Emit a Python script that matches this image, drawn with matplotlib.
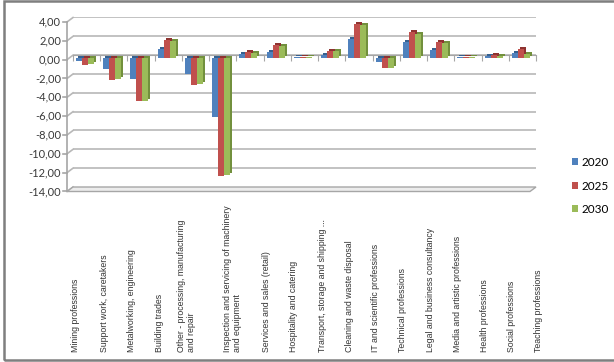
import numpy as np
import matplotlib
matplotlib.use("Agg")
import matplotlib.pyplot as plt
import matplotlib.transforms as mtransforms
from matplotlib.patches import Rectangle, Polygon

# data
categories = [
    "Mining professions",
    "Support work, caretakers",
    "Metalworking, engineering",
    "Building trades",
    "Other - processing, manufacturing\nand repair",
    "Inspection and servicing of machinery\nand equipment",
    "Services and sales (retail)",
    "Hospitality and catering",
    "Transport, storage and shipping ...",
    "Cleaning and waste disposal",
    "IT and scientific professions",
    "Technical professions",
    "Legal and business consultancy",
    "Media and artistic professions",
    "Health professions",
    "Social professions",
    "Teaching professions",
]
series_names = ["2020", "2025", "2030"]
v2020 = [-0.25, -1.1, -2.2, 0.95, -1.65, -6.3, 0.4, 0.65, 0.1, 0.35, 2.0, -0.45, 1.7, 0.9, 0.1, 0.25, 0.6]
v2025 = [-0.75, -2.35, -4.6, 1.9, -2.9, -12.5, 0.7, 1.4, 0.1, 0.75, 3.65, -1.05, 2.8, 1.75, 0.15, 0.35, 0.95]
v2030 = [-0.6, -2.2, -4.6, 1.8, -2.75, -12.4, 0.6, 1.3, 0.1, 0.75, 3.5, -1.05, 2.6, 1.65, 0.1, 0.2, 0.4]
yticks = list(range(-14, 5, 2))

front_colors = ["#4F81BD", "#C0504D", "#9BBB59"]
side_colors = ["#36608F", "#8E3330", "#72903D"]

W, H = 614, 362
fig = plt.figure(figsize=(W / 100, H / 100), dpi=100)
fig.patch.set_facecolor("white")

# plot area (back wall), in pixels
L, R, T, B = 73, 536, 17.5, 187
ax = fig.add_axes([L / W, 1 - B / H, (R - L) / W, (B - T) / H])
ax.set_xlim(-0.5, len(categories) - 0.5)
ax.set_ylim(-14, 4)
for s in ax.spines.values():
    s.set_visible(False)

x = np.arange(len(categories))
dx_wall = 6 / (R - L)           # depth of side wall in axes fraction
dy_wall = 4.5 / ((B - T) / 18)  # depth of side wall in data units

grid_c = "#B8B8B8"
for t in yticks[1:]:
    ax.axhline(t, color=grid_c, lw=1.2, zorder=1)

wall = ax.get_yaxis_transform()
# left wall edge, diagonals, tick marks, tick labels
ax.plot([-dx_wall, -dx_wall], [-14 - dy_wall, 4 - dy_wall], color="#A6A6A6", lw=1.2,
        transform=wall, clip_on=False, zorder=2)
for t in yticks:
    ax.plot([-dx_wall, 0], [t - dy_wall, t], color=grid_c, lw=1.2, transform=wall,
            clip_on=False, zorder=1)
    ax.plot([-dx_wall - 4 / (R - L), -dx_wall], [t - dy_wall, t - dy_wall], color="#A6A6A6",
            lw=1.2, transform=wall, clip_on=False, zorder=2)
    ax.text(-dx_wall - 6 / (R - L), t - dy_wall, f"{t:.2f}".replace(".", ","),
            transform=wall, ha="right", va="center", fontsize=8, family="Lato",
            color="#3A3A3A")
ax.set_yticks([])

# floor
floor = Polygon([(0, -14), (1, -14), (1 - dx_wall, -14 - dy_wall), (-dx_wall, -14 - dy_wall)],
                closed=True, transform=wall, facecolor="#ECECEC", edgecolor="#A6A6A6",
                lw=1.0, clip_on=False, zorder=1)
ax.add_patch(floor)

# category axis at zero
ax.spines["bottom"].set_visible(True)
ax.spines["bottom"].set_position(("data", 0))
ax.spines["bottom"].set_color("#A6A6A6")
ax.spines["bottom"].set_zorder(2)
ax.set_xticks(np.arange(-0.5, len(categories), 1.0))
ax.set_xticklabels([])
ax.tick_params(axis="x", length=4, color="#A6A6A6", direction="out")

# pseudo-3D bars: darker shifted copy gives side and top faces
width = 0.22
offsets = [-0.28, -0.06, 0.16]
front_tr = mtransforms.offset_copy(ax.transData, fig=fig, x=0, y=-3, units="dots")
side_tr = mtransforms.offset_copy(ax.transData, fig=fig, x=2, y=-1, units="dots")
handles = []
for vals, off, fc, sc, name in zip([v2020, v2025, v2030], offsets, front_colors, side_colors,
                                   series_names):
    back = ax.bar(x + off, vals, width=width, color=sc, zorder=3)
    for p in back:
        p.set_transform(side_tr)
    front = ax.bar(x + off, vals, width=width, color=fc, zorder=3, label=name)
    for p in front:
        p.set_transform(front_tr)
    handles.append(front)

# category labels (rotated, bottom aligned)
label_slots = [0, 1.05, 2.05, 3.05, 4.05, 5.75, 7, 8, 9.05, 10.05, 11, 12, 13, 14, 15, 16, 17]
lab_tr = mtransforms.blended_transform_factory(ax.transData, fig.transFigure)
for slot, lab in zip(label_slots, categories):
    ax.text(slot - 0.39, (H - 352.5) / H, lab, rotation=90, ha="center", va="bottom",
            multialignment="left", fontsize=6.3, family="Liberation Sans",
            color="#333333", transform=lab_tr, clip_on=False)

# legend
fig.legend(handles=handles, labels=series_names, loc="center left",
           bbox_to_anchor=(566 / W, 1 - 186 / H), frameon=False,
           prop={"family": "Lato", "size": 8.5}, handlelength=0.55, handleheight=0.55,
           handletextpad=0.25, labelspacing=1.05, borderpad=0)

# outer frame
fig.patches.append(Rectangle((3.5 / W, 1 - 359.5 / H), 1.0, 358.5 / H,
                             transform=fig.transFigure, fill=False, edgecolor="#7F7F7F",
                             lw=1.8, clip_on=False))

fig.savefig("out.png", dpi=100)
